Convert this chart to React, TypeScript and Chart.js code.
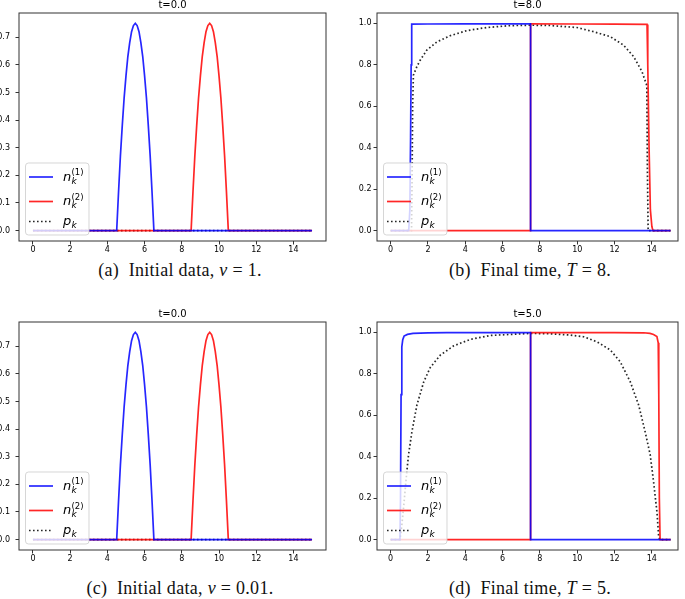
import React, { useEffect, useRef } from "react";
import { Chart, registerables } from "chart.js";

Chart.register(...registerables);

// ---------- data ----------
// Panels (a) and (c): initial data (t = 0)
const INIT_N1_X = [0, 4.5, 4.6, 4.7, 4.8, 4.9, 5.0, 5.1, 5.2, 5.3, 5.4, 5.5, 5.6, 5.7, 5.8, 5.9, 6.0, 6.1, 6.2, 6.3, 6.4, 6.5, 15];
const INIT_N1_Y = [0, 0, 0.14, 0.27, 0.38, 0.48, 0.56, 0.63, 0.68, 0.72, 0.742, 0.75, 0.742, 0.72, 0.68, 0.63, 0.56, 0.48, 0.38, 0.27, 0.14, 0, 0];
const INIT_N2_X = [0, 8.5, 8.6, 8.7, 8.8, 8.9, 9.0, 9.1, 9.2, 9.3, 9.4, 9.5, 9.6, 9.7, 9.8, 9.9, 10.0, 10.1, 10.2, 10.3, 10.4, 10.5, 15];
const INIT_N2_Y = [0, 0, 0.14, 0.27, 0.38, 0.48, 0.56, 0.63, 0.68, 0.72, 0.742, 0.75, 0.742, 0.72, 0.68, 0.63, 0.56, 0.48, 0.38, 0.27, 0.14, 0, 0];
const INIT_P_X = [0, 15];
const INIT_P_Y = [0, 0];

// Panel (b): t = 8
const B_N1_X = [0, 0.97, 1.03, 1.07, 1.1, 1.13, 2, 4, 6, 7.5, 7.5, 15];
const B_N1_Y = [0, 0, 0.1, 0.45, 0.8, 0.996, 0.997, 0.998, 0.998, 0.998, 0, 0];
const B_N2_X = [0, 7.5, 7.5, 10, 12, 13.74, 13.78, 13.85, 13.92, 14.0, 14.06, 15];
const B_N2_Y = [0, 0, 0.998, 0.997, 0.996, 0.995, 0.8, 0.4, 0.1, 0.02, 0, 0];
const B_P_X = [0, 1.12, 1.15, 1.18, 1.22, 1.4, 1.57, 1.93, 2.47, 3.18, 4.08, 5.15, 6.4, 7.5, 8.5, 9.98, 10.87, 11.77, 12.48, 13.02, 13.47, 13.73, 13.76, 13.8, 15];
const B_P_Y = [0, 0, 0.25, 0.6, 0.75, 0.79, 0.82, 0.87, 0.91, 0.94, 0.965, 0.98, 0.989, 0.991, 0.99, 0.98, 0.96, 0.936, 0.895, 0.84, 0.767, 0.7, 0.3, 0, 0];

// Panel (d): t = 5
const D_N1_X = [0, 0.5, 0.53, 0.56, 0.6, 0.65, 0.72, 0.9, 1.2, 2, 3, 7.5, 7.5, 15];
const D_N1_Y = [0, 0, 0.2, 0.7, 0.93, 0.965, 0.982, 0.99, 0.995, 0.998, 0.999, 0.999, 0, 0];
const D_N2_X = [0, 7.5, 7.5, 12, 13.56, 13.9, 14.09, 14.27, 14.34, 14.37, 14.4, 14.44, 15];
const D_N2_Y = [0, 0, 0.999, 0.999, 0.998, 0.995, 0.99, 0.98, 0.95, 0.7, 0.2, 0, 0];
const D_P_X = [0, 0.5, 0.6, 0.7, 0.8, 0.87, 0.96, 1.14, 1.41, 1.77, 2.12, 2.66, 3.38, 4.27, 5.34, 6.4, 7.5, 8.6, 9.63, 10.34, 11.05, 11.77, 12.3, 12.84, 13.29, 13.64, 13.91, 14.09, 14.27, 14.36, 14.42, 15];
const D_P_Y = [0, 0, 0.07, 0.16, 0.26, 0.33, 0.41, 0.52, 0.65, 0.76, 0.83, 0.89, 0.935, 0.966, 0.985, 0.99, 0.995, 0.993, 0.987, 0.979, 0.955, 0.915, 0.859, 0.762, 0.65, 0.52, 0.41, 0.28, 0.135, 0.02, 0, 0];

const TITLES = ["t=0.0", "t=8.0", "t=0.0", "t=5.0"];
const LEGEND_MAIN = ["n", "n", "p"];
const LEGEND_SUB = ["k", "k", "k"];
const LEGEND_SUP = ["(1)", "(2)", ""];
const X_TICK_STEP = 2;
const Y_TICK_STEP_INIT = 0.1;
const Y_TICK_STEP_FINAL = 0.2;

// ---------- styles ----------
const BLUE = "rgba(0,0,255,0.85)";
const RED = "rgba(255,0,0,0.85)";
const BLACK = "rgba(0,0,0,0.85)";
const DOT = [1.6, 2.4];
const LW = 1.7;
const FONT = "DejaVu Sans";

const zip = (xs: number[], ys: number[]) => xs.map((x, i) => ({ x, y: ys[i] }));

const framePlugin = {
  id: "mplFrame",
  afterDraw(chart: any) {
    const { ctx, chartArea: a } = chart;
    ctx.save();
    ctx.strokeStyle = "#333";
    ctx.lineWidth = 1;
    ctx.strokeRect(a.left, a.top, a.right - a.left, a.bottom - a.top);
    ctx.restore();
  },
};

const titlePlugin = {
  id: "mplTitle",
  afterDraw(chart: any, _args: any, opts: any) {
    const { ctx, chartArea: a } = chart;
    ctx.save();
    ctx.font = `10px "${FONT}"`;
    ctx.fillStyle = "#000";
    ctx.textAlign = "center";
    ctx.textBaseline = "alphabetic";
    ctx.fillText(opts.text, (a.left + a.right) / 2, a.top - 5);
    ctx.restore();
  },
};

const legendPlugin = {
  id: "mplLegend",
  afterDraw(chart: any) {
    const { ctx, chartArea: a } = chart;
    const bw = 63.5;
    const bh = 72;
    const bx = a.left + 6.5;
    const by = a.bottom - 6 - bh;
    ctx.save();
    ctx.beginPath();
    ctx.roundRect(bx, by, bw, bh, 3);
    ctx.fillStyle = "rgba(255,255,255,0.8)";
    ctx.fill();
    ctx.strokeStyle = "rgba(204,204,204,0.8)";
    ctx.lineWidth = 1;
    ctx.stroke();
    const rows = [14, 38.5, 58.5];
    chart.data.datasets.forEach((ds: any, i: number) => {
      const y = by + rows[i];
      ctx.beginPath();
      ctx.setLineDash(ds.borderDash || []);
      ctx.strokeStyle = ds.borderColor;
      ctx.lineWidth = ds.borderWidth;
      ctx.moveTo(bx + 3.5, y);
      ctx.lineTo(bx + 27.5, y);
      ctx.stroke();
      ctx.setLineDash([]);
      const tx = bx + 37.5;
      ctx.fillStyle = "#000";
      ctx.textAlign = "left";
      ctx.textBaseline = "alphabetic";
      ctx.font = `italic 13px "${FONT}"`;
      ctx.fillText(LEGEND_MAIN[i], tx, y + 3.5);
      const mw = ctx.measureText(LEGEND_MAIN[i]).width;
      ctx.font = `italic 9px "${FONT}"`;
      ctx.fillText(LEGEND_SUB[i], tx + mw + 0.3, y + 6.5);
      if (LEGEND_SUP[i]) {
        ctx.font = `8.5px "${FONT}"`;
        ctx.fillText(LEGEND_SUP[i], tx + mw + 0.3, y - 1.8);
      }
    });
    ctx.restore();
  },
};

type PanelCfg = {
  left: number;
  top: number;
  w: number;
  h: number;
  yAxisW: number;
  yPad: number;
  padRight: number;
  title: string;
  n1: any[];
  n2: any[];
  p: any[];
  xMin: number;
  xMax: number;
  yMin: number;
  yMax: number;
  yStep: number;
};

function Panel({ cfg }: { cfg: PanelCfg }) {
  const ref = useRef<HTMLCanvasElement>(null);
  useEffect(() => {
    const tickFont = { family: FONT, size: 8 };
    const grid = {
      display: true,
      drawOnChartArea: false,
      drawTicks: true,
      tickLength: 3.5,
      tickWidth: 0.8,
      tickColor: "#000",
      color: "#000",
    };
    const ds = (data: any[], color: string, dash?: number[]) => ({
      data,
      borderColor: color,
      borderWidth: LW,
      borderDash: dash || [],
      pointRadius: 0,
      tension: 0,
      fill: false,
    });
    const chart = new Chart(ref.current as HTMLCanvasElement, {
      type: "line",
      data: {
        datasets: [ds(cfg.n1, BLUE), ds(cfg.n2, RED), ds(cfg.p, BLACK, DOT)],
      },
      options: {
        animation: false,
        responsive: false,
        devicePixelRatio: 1,
        layout: { padding: { top: 13, left: 0, right: cfg.padRight, bottom: 0 } },
        plugins: {
          legend: { display: false },
          tooltip: { enabled: false },
          title: { display: false },
          mplTitle: { text: cfg.title },
        } as any,
        scales: {
          x: {
            type: "linear",
            min: cfg.xMin,
            max: cfg.xMax,
            afterFit: (s: any) => {
              s.height = cfg.h - 13 - 228;
            },
            ticks: {
              stepSize: X_TICK_STEP,
              includeBounds: false,
              autoSkip: false,
              maxRotation: 0,
              padding: 1,
              color: "#000",
              font: tickFont,
              callback: (v: any) => String(v),
            },
            grid,
            border: { display: false },
          },
          y: {
            type: "linear",
            min: cfg.yMin,
            max: cfg.yMax,
            afterFit: (s: any) => {
              s.width = cfg.yAxisW;
            },
            ticks: {
              stepSize: cfg.yStep,
              includeBounds: false,
              autoSkip: false,
              padding: cfg.yPad,
              color: "#000",
              font: tickFont,
              callback: (v: any) => Number(v).toFixed(1),
            },
            grid,
            border: { display: false },
          },
        },
      } as any,
      plugins: [framePlugin, legendPlugin, titlePlugin],
    });
    return () => chart.destroy();
  }, []);
  return (
    <canvas
      ref={ref}
      width={cfg.w}
      height={cfg.h}
      style={{ position: "absolute", left: cfg.left, top: cfg.top, width: cfg.w, height: cfg.h }}
    />
  );
}

const captionStyle: React.CSSProperties = {
  position: "absolute",
  fontFamily: '"Liberation Serif", serif',
  fontSize: 18,
  letterSpacing: 0.3,
  lineHeight: "20px",
  whiteSpace: "nowrap",
  textAlign: "center",
  color: "#111",
};

export default function App() {
  const panels: PanelCfg[] = [
    {
      left: 0, top: 0, w: 340, h: 258, yAxisW: 19, yPad: 5.5, padRight: 14, title: TITLES[0],
      n1: zip(INIT_N1_X, INIT_N1_Y), n2: zip(INIT_N2_X, INIT_N2_Y), p: zip(INIT_P_X, INIT_P_Y),
      xMin: -0.75, xMax: 15.75, yMin: -0.0375, yMax: 0.7875, yStep: Y_TICK_STEP_INIT,
    },
    {
      left: 340, top: 0, w: 345, h: 258, yAxisW: 37, yPad: 2, padRight: 7, title: TITLES[1],
      n1: zip(B_N1_X, B_N1_Y), n2: zip(B_N2_X, B_N2_Y), p: zip(B_P_X, B_P_Y),
      xMin: -0.73, xMax: 15.4, yMin: -0.05, yMax: 1.05, yStep: Y_TICK_STEP_FINAL,
    },
    {
      left: 0, top: 309, w: 340, h: 258, yAxisW: 19, yPad: 5.5, padRight: 14, title: TITLES[2],
      n1: zip(INIT_N1_X, INIT_N1_Y), n2: zip(INIT_N2_X, INIT_N2_Y), p: zip(INIT_P_X, INIT_P_Y),
      xMin: -0.75, xMax: 15.75, yMin: -0.0375, yMax: 0.7875, yStep: Y_TICK_STEP_INIT,
    },
    {
      left: 340, top: 309, w: 345, h: 258, yAxisW: 37, yPad: 2, padRight: 7, title: TITLES[3],
      n1: zip(D_N1_X, D_N1_Y), n2: zip(D_N2_X, D_N2_Y), p: zip(D_P_X, D_P_Y),
      xMin: -0.73, xMax: 15.4, yMin: -0.05, yMax: 1.05, yStep: Y_TICK_STEP_FINAL,
    },
  ];
  return (
    <div style={{ position: "absolute", left: 0, top: 0, width: 685, height: 599, overflow: "hidden", background: "#fff" }}>
      {panels.map((p, i) => (
        <Panel key={i} cfg={p} />
      ))}
      <div style={{ ...captionStyle, left: 0, width: 360, top: 260 }}>
        (a)&nbsp; Initial data, <i>ν</i> = 1.
      </div>
      <div style={{ ...captionStyle, left: 360, width: 340, top: 260 }}>
        (b)&nbsp; Final time, <i>T</i> = 8.
      </div>
      <div style={{ ...captionStyle, left: 0, width: 360, top: 578 }}>
        (c)&nbsp; Initial data, <i>ν</i> = 0.01.
      </div>
      <div style={{ ...captionStyle, left: 360, width: 340, top: 578 }}>
        (d)&nbsp; Final time, <i>T</i> = 5.
      </div>
    </div>
  );
}
